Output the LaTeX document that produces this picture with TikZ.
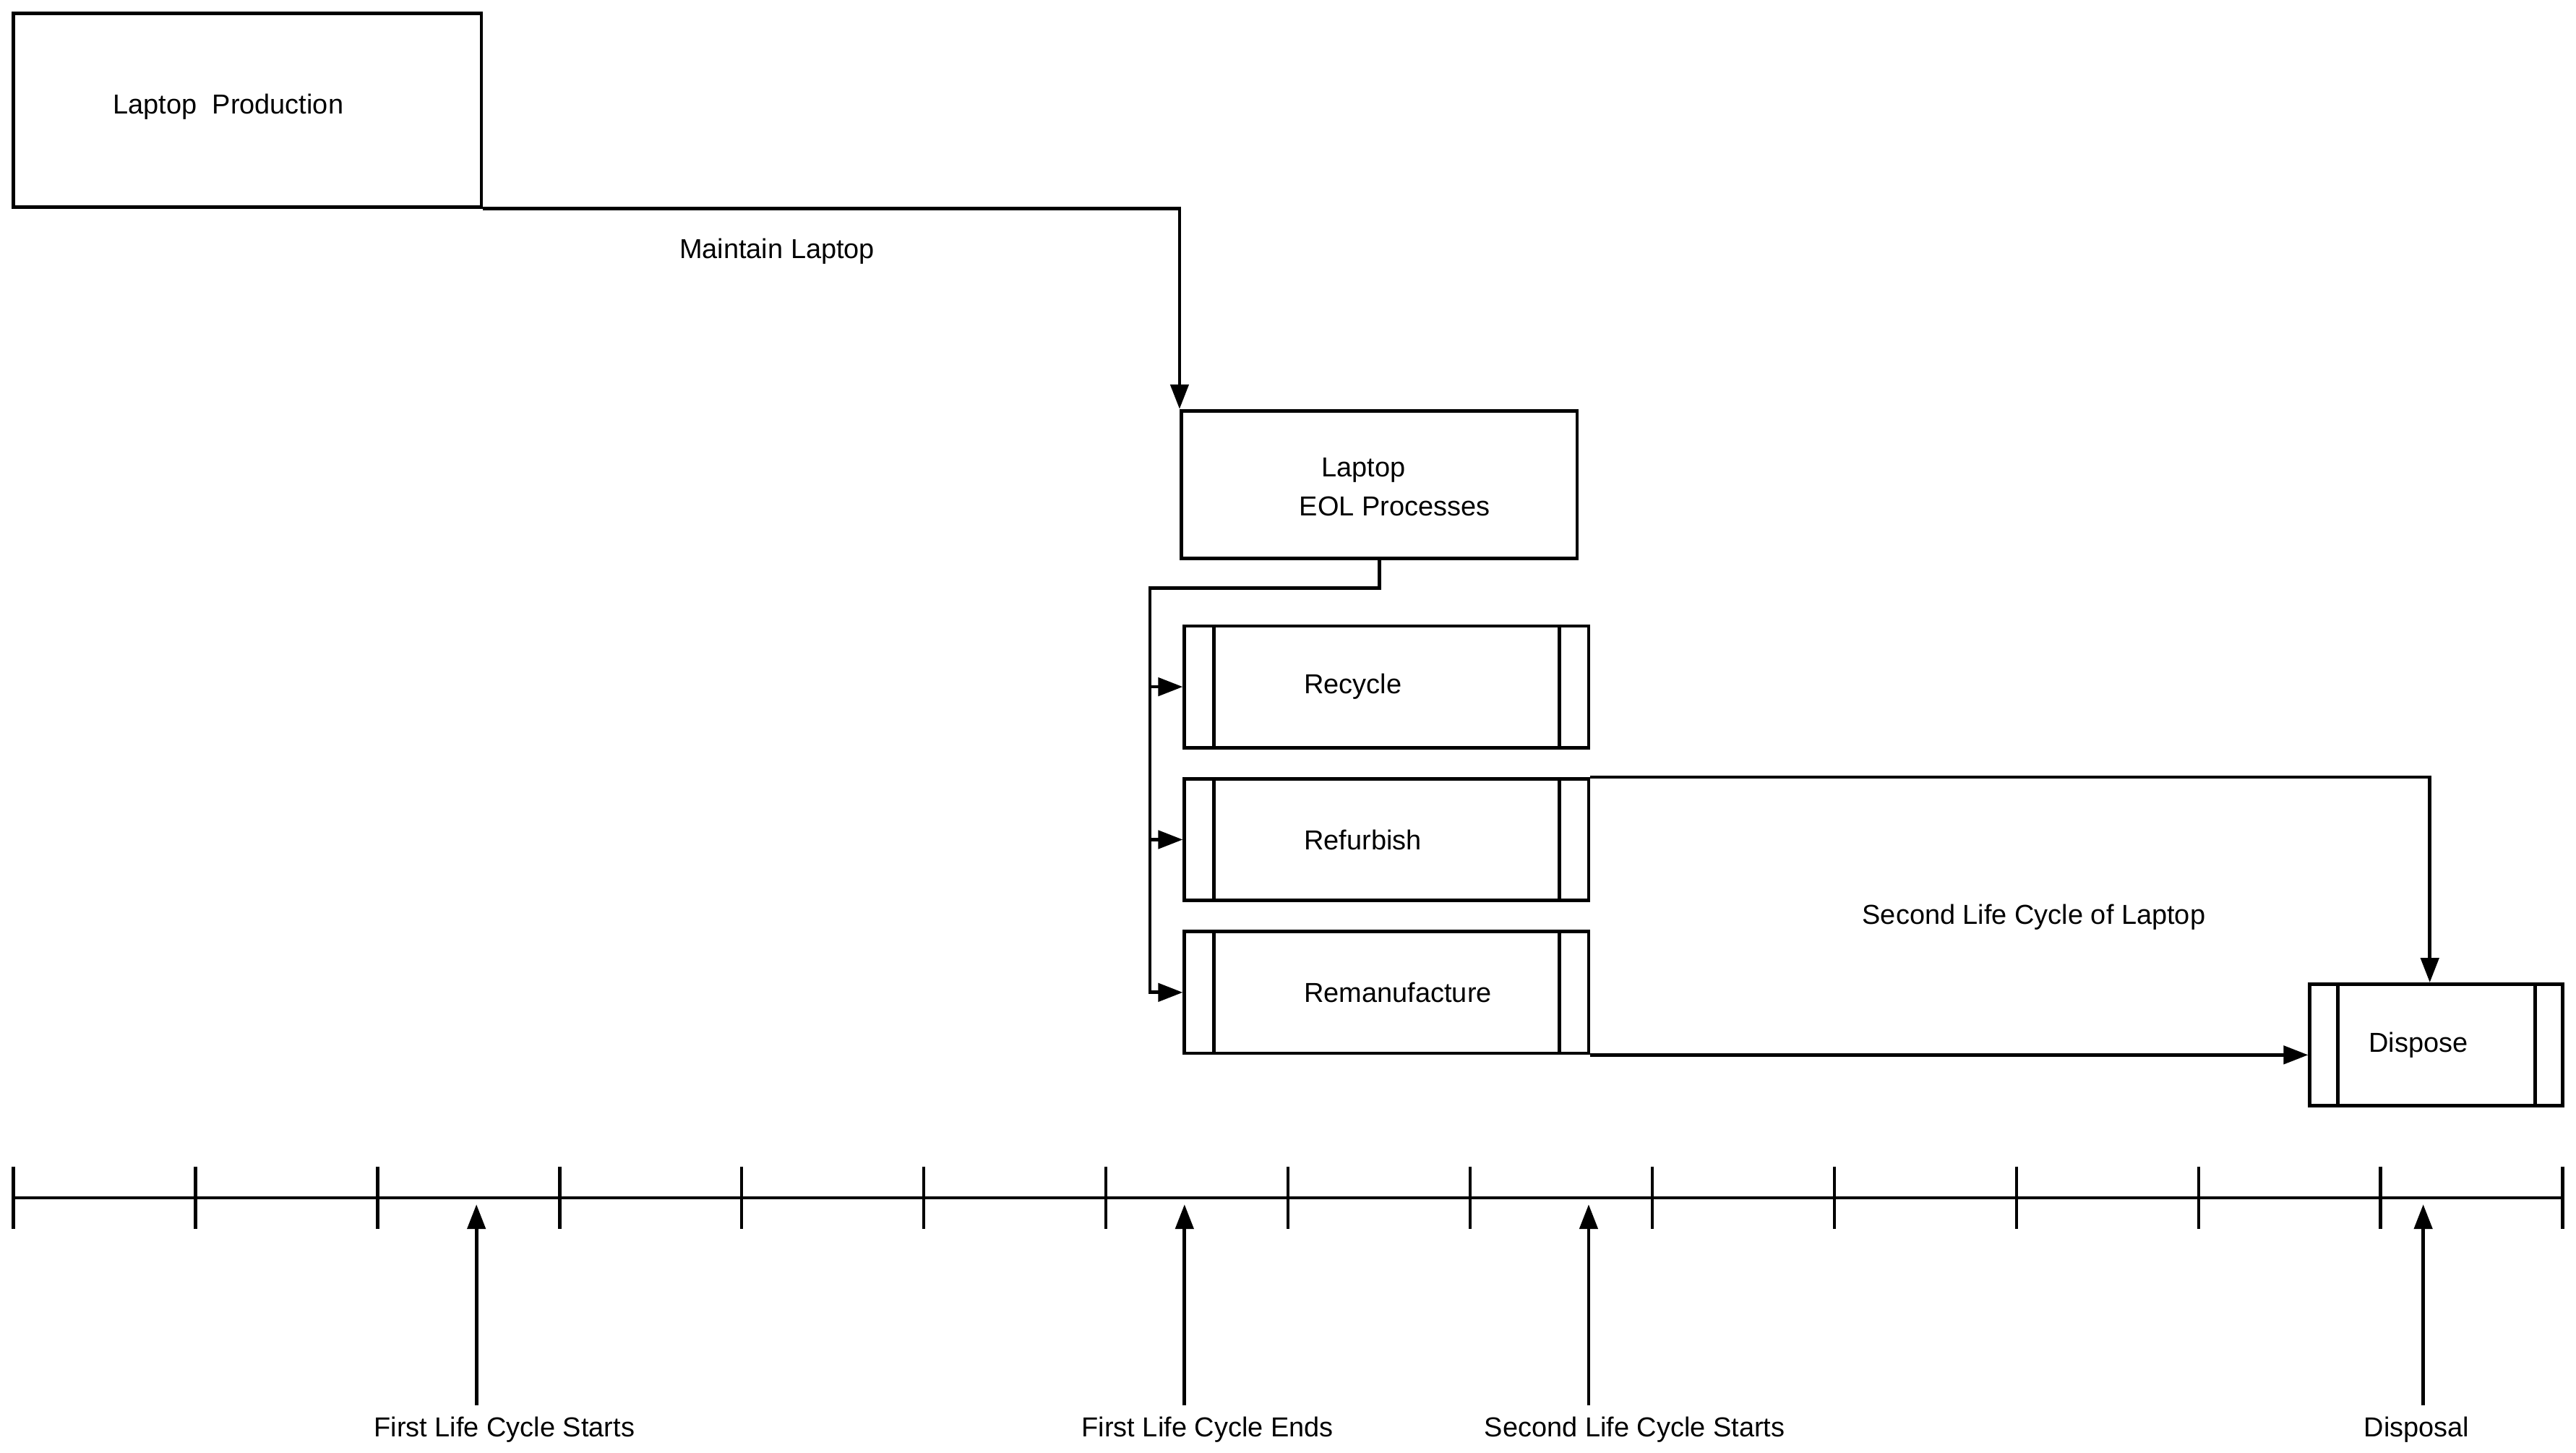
\documentclass[tikz,border=0pt]{standalone}
\usepackage{fontspec}
\setmainfont{Liberation Sans}
\usetikzlibrary{arrows.meta}
\begin{document}
\begin{tikzpicture}[x=0.02cm,y=-0.02cm,line width=1.2pt,
    font=\fontsize{9.5}{12}\selectfont,
    box/.style={draw,minimum width=#1,minimum height=1.48cm,inner sep=0pt},
    arr/.style={-{Triangle[length=0.3cm,width=0.22cm]}}]
        \useasboundingbox (0,0) rectangle (1568,884);

        % Main boxes
        \node[draw,minimum width=5.7cm,minimum height=2.36cm] (prod) at (150.5,67) {};
        \node at (139,65) {Laptop\ \ Production};
        \node[draw,minimum width=4.82cm,minimum height=1.8cm] (eol) at (839.5,295) {};
        \node at (830,286) {Laptop};
        \node at (849,308) {EOL Processes};

        % Sub-processes
        \node[box=4.92cm,label={[anchor=west,xshift=1.34cm]west:Recycle}] (rec) at (844,418) {};
        \node[box=4.92cm,label={[anchor=west,xshift=1.34cm]west:Refurbish}] (ref) at (844,511) {};
        \node[box=4.92cm,label={[anchor=west,xshift=1.34cm]west:Remanufacture}] (rem) at (844,604) {};
        \node[box=3.08cm,label={[anchor=west,xshift=0.6cm]west:Dispose}] (disp) at (1483,636) {};
        \foreach \n in {rec,ref,rem} {
            \draw ([xshift=0.38cm]\n.north west) -- ([xshift=0.38cm]\n.south west);
            \draw ([xshift=-0.38cm]\n.north east) -- ([xshift=-0.38cm]\n.south east);
        }
        \draw ([xshift=0.36cm]disp.north west) -- ([xshift=0.36cm]disp.south west);
        \draw ([xshift=-0.36cm]disp.north east) -- ([xshift=-0.36cm]disp.south east);

        % Flows
        \draw[arr] (prod.south east) -| (eol.north west);
        \node at (473,153) {Maintain Laptop};
        \coordinate (split) at (700,358);
        \draw[arr] (eol.south) |- (split) -- (split |- rem.west) -- (rem.west);
        \draw[arr] (split |- rec.west) -- (rec.west);
        \draw[arr] (split |- ref.west) -- (ref.west);
        \draw[arr] (ref.north east) -| ([xshift=-0.08cm]disp.north);
        \draw[arr] (rem.south east) -- (rem.south east -| disp.west);
        \node at (1238,558) {Second Life Cycle of Laptop};

        % Timeline
        \draw (8,729) -- (1560,729);
        \foreach \i in {0,...,14}
            \draw (8+\i*110.857,710) -- (8+\i*110.857,748);

        % Milestones
        \node (t1) at (307,870) {First Life Cycle Starts};
        \node (t2) at (735,870) {First Life Cycle Ends};
        \node (t3) at (995,870) {Second Life Cycle Starts};
        \node (t4) at (1471,870) {Disposal};
        \coordinate (m1) at (290,733);
        \coordinate (m2) at (721,733);
        \coordinate (m3) at (967,733);
        \coordinate (m4) at (1475,733);
        \foreach \k in {1,...,4}
            \draw[arr] (m\k |- t\k.north) -- (m\k);
    \end{tikzpicture}
\end{document}
